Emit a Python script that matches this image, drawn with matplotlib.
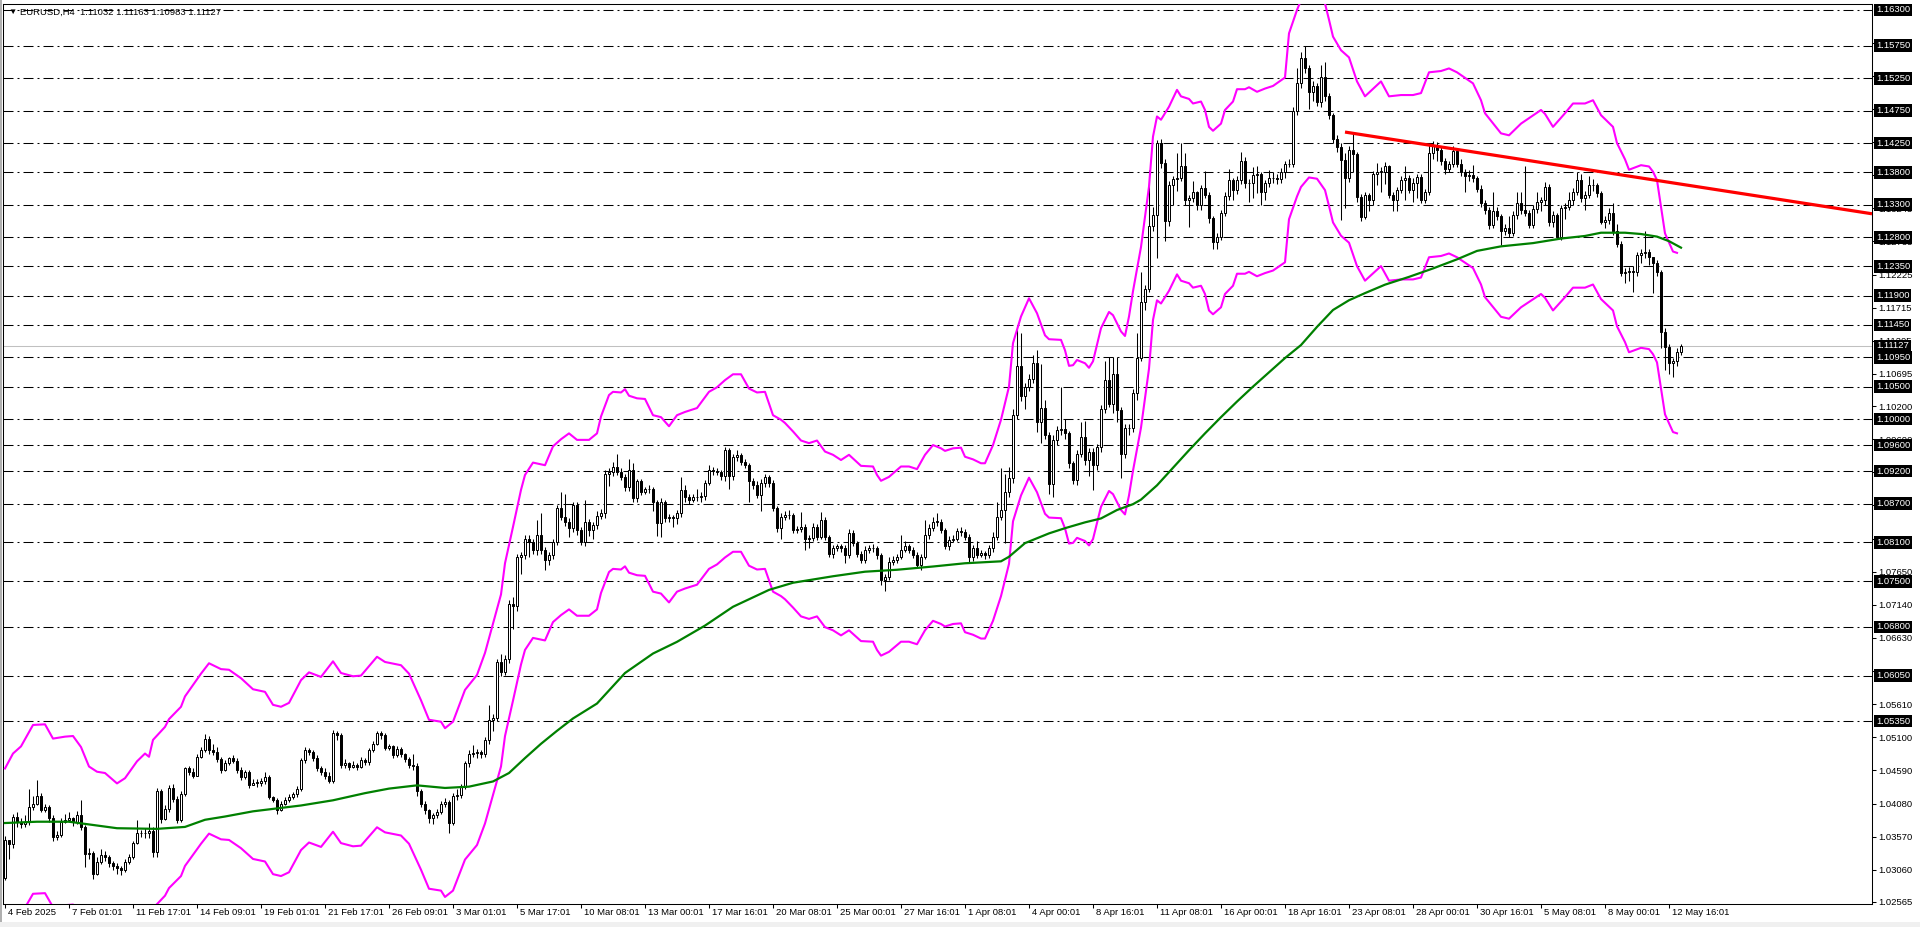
import numpy as np
import matplotlib
matplotlib.use("Agg")
import matplotlib.pyplot as plt
from matplotlib.patches import Rectangle
from matplotlib.transforms import offset_copy

plt.rcParams['font.family'] = ['Liberation Sans', 'DejaVu Sans']
plt.rcParams['lines.scale_dashes'] = False

# ---- values ----
symbol = "EURUSD,H4"
last_bar = ["1.11032", "1.11163", "1.10983", "1.11127"]

first_open = 1.0293

# H4 closes, 16 bars per row (one row per time label)
closes = [
    1.0352, 1.0345, 1.0388, 1.0380, 1.0376, 1.0380, 1.0403, 1.0408, 1.0420, 1.0398, 1.0403, 1.0386, 1.0357, 1.0360, 1.0380, 1.0383,
    1.0385, 1.0380, 1.0390, 1.0372, 1.0330, 1.0332, 1.0300, 1.0318, 1.0328, 1.0325, 1.0316, 1.0312, 1.0308, 1.0305, 1.0318, 1.0325,
    1.0347, 1.0362, 1.0362, 1.0362, 1.0365, 1.0334, 1.0428, 1.0384, 1.0400, 1.0432, 1.0415, 1.0383, 1.0423, 1.0462, 1.0457, 1.0451,
    1.0480, 1.0490, 1.0508, 1.0490, 1.0488, 1.0476, 1.0460, 1.0470, 1.0478, 1.0473, 1.0460, 1.0449, 1.0456, 1.0437, 1.0440, 1.0440,
    1.0442, 1.0449, 1.0418, 1.0413, 1.0398, 1.0408, 1.0413, 1.0418, 1.0422, 1.0431, 1.0475, 1.0490, 1.0488, 1.0478, 1.0463, 1.0457,
    1.0450, 1.0442, 1.0516, 1.0514, 1.0467, 1.0470, 1.0465, 1.0468, 1.0465, 1.0475, 1.0472, 1.0490, 1.0500, 1.0516, 1.0514, 1.0494,
    1.0496, 1.0482, 1.0492, 1.0484, 1.0477, 1.0467, 1.0466, 1.0428, 1.0408, 1.0398, 1.0385, 1.0390, 1.0395, 1.0408, 1.0410, 1.0378,
    1.0419, 1.0421, 1.0434, 1.0470, 1.0485, 1.0486, 1.0487, 1.0484, 1.0506, 1.0537, 1.0540, 1.0626, 1.0611, 1.0631, 1.0716, 1.0712,
    1.0788, 1.0790, 1.0816, 1.0811, 1.0798, 1.0822, 1.0798, 1.0783, 1.0790, 1.0811, 1.0863, 1.0850, 1.0842, 1.0832, 1.0868, 1.0829,
    1.0811, 1.0842, 1.0829, 1.0837, 1.0851, 1.0855, 1.0916, 1.0919, 1.0927, 1.0919, 1.0911, 1.0896, 1.0922, 1.0878, 1.0904, 1.0888,
    1.0892, 1.0893, 1.0873, 1.0840, 1.0873, 1.0847, 1.0850, 1.0847, 1.0855, 1.0891, 1.0880, 1.0875, 1.0880, 1.0880, 1.0882, 1.0902,
    1.0922, 1.0920, 1.0919, 1.0912, 1.0952, 1.0912, 1.0941, 1.0944, 1.0934, 1.0929, 1.0904, 1.0899, 1.0883, 1.0902, 1.0911, 1.0902,
    1.0863, 1.0832, 1.0850, 1.0852, 1.0852, 1.0829, 1.0830, 1.0834, 1.0816, 1.0817, 1.0834, 1.0819, 1.0845, 1.0819, 1.0793, 1.0801,
    1.0804, 1.0801, 1.0791, 1.0824, 1.0809, 1.0793, 1.0783, 1.0799, 1.0801, 1.0801, 1.0790, 1.0752, 1.0757, 1.0780, 1.0783, 1.0788,
    1.0799, 1.0804, 1.0799, 1.0791, 1.0775, 1.0788, 1.0822, 1.0832, 1.0842, 1.0842, 1.0829, 1.0804, 1.0814, 1.0816, 1.0827, 1.0826,
    1.0819, 1.0788, 1.0801, 1.0791, 1.0794, 1.0791, 1.0801, 1.0819, 1.0850, 1.0860, 1.0888, 1.0909, 1.1006, 1.1081, 1.1035, 1.1050,
    1.1062, 1.1086, 1.0996, 1.1017, 1.0976, 1.0900, 1.0968, 1.0983, 1.0984, 1.0978, 1.0932, 1.0906, 1.0947, 1.0973, 1.0937, 1.0950,
    1.0929, 1.0957, 1.1016, 1.1060, 1.1024, 1.1070, 1.1014, 1.0947, 1.0986, 1.0986, 1.1040, 1.1094, 1.1180, 1.1201, 1.1298, 1.1314,
    1.1425, 1.1394, 1.1305, 1.1361, 1.1369, 1.1371, 1.1389, 1.1337, 1.1340, 1.1349, 1.1330, 1.1356, 1.1345, 1.1309, 1.1273, 1.1281,
    1.1317, 1.1343, 1.1368, 1.1353, 1.1368, 1.1397, 1.1363, 1.1364, 1.1376, 1.1377, 1.1350, 1.1363, 1.1371, 1.1372, 1.1370, 1.1380,
    1.1393, 1.1393, 1.1474, 1.1517, 1.1556, 1.1540, 1.1504, 1.1513, 1.1489, 1.1527, 1.1497, 1.1468, 1.1432, 1.1419, 1.1399, 1.1371,
    1.1414, 1.1408, 1.1342, 1.1311, 1.1345, 1.1337, 1.1378, 1.1381, 1.1381, 1.1389, 1.1345, 1.1337, 1.1353, 1.1368, 1.1371, 1.1353,
    1.1363, 1.1373, 1.1337, 1.1350, 1.1409, 1.1420, 1.1415, 1.1397, 1.1385, 1.1393, 1.1413, 1.1393, 1.1381, 1.1374, 1.1376, 1.1371,
    1.1355, 1.1332, 1.1322, 1.1299, 1.1320, 1.1312, 1.1289, 1.1294, 1.1286, 1.1314, 1.1332, 1.1322, 1.1317, 1.1299, 1.1324, 1.1335,
    1.1337, 1.1357, 1.1304, 1.1314, 1.1281, 1.1325, 1.1327, 1.1337, 1.1350, 1.1368, 1.1340, 1.1345, 1.1360, 1.1360, 1.1348, 1.1304,
    1.1307, 1.1317, 1.1289, 1.1270, 1.1225, 1.1227, 1.1228, 1.1227, 1.1253, 1.1255, 1.1258, 1.1250, 1.1240, 1.1226, 1.1134, 1.1111,
    1.1086, 1.1089, 1.1104, 1.1113,
]

highs = [
    1.0358, 1.0352, 1.0392, 1.0395, 1.0386, 1.0390, 1.0430, 1.0420, 1.0444, 1.0424, 1.0408, 1.0405, 1.0390, 1.0365, 1.0385, 1.0392,
    1.0395, 1.0388, 1.0396, 1.0413, 1.0375, 1.0340, 1.0335, 1.0325, 1.0338, 1.0335, 1.0328, 1.0320, 1.0316, 1.0312, 1.0322, 1.0330,
    1.0350, 1.0383, 1.0368, 1.0370, 1.0378, 1.0372, 1.0432, 1.0430, 1.0405, 1.0436, 1.0438, 1.0420, 1.0428, 1.0465, 1.0466, 1.0462,
    1.0485, 1.0495, 1.0515, 1.0512, 1.0500, 1.0495, 1.0480, 1.0475, 1.0480, 1.0482, 1.0478, 1.0465, 1.0460, 1.0460, 1.0446, 1.0446,
    1.0448, 1.0456, 1.0452, 1.0420, 1.0417, 1.0412, 1.0418, 1.0422, 1.0425, 1.0435, 1.0478, 1.0495, 1.0494, 1.0490, 1.0482, 1.0466,
    1.0463, 1.0456, 1.0522, 1.0520, 1.0516, 1.0476, 1.0472, 1.0474, 1.0470, 1.0480, 1.0478, 1.0494, 1.0504, 1.0520, 1.0520, 1.0516,
    1.0500, 1.0498, 1.0496, 1.0495, 1.0486, 1.0480, 1.0484, 1.0470, 1.0430, 1.0412, 1.0400, 1.0394, 1.0400, 1.0412, 1.0416, 1.0414,
    1.0424, 1.0430, 1.0438, 1.0474, 1.0490, 1.0498, 1.0492, 1.0490, 1.0510, 1.0560, 1.0546, 1.0630, 1.0638, 1.0636, 1.0722, 1.0726,
    1.0792, 1.0796, 1.0822, 1.0822, 1.0815, 1.0845, 1.0855, 1.0803, 1.0796, 1.0816, 1.0868, 1.0888, 1.0884, 1.0848, 1.0872, 1.0872,
    1.0834, 1.0875, 1.0846, 1.0842, 1.0858, 1.0862, 1.0922, 1.0924, 1.0934, 1.0947, 1.0924, 1.0915, 1.0938, 1.0932, 1.0908, 1.0908,
    1.0896, 1.0898, 1.0896, 1.0876, 1.0878, 1.0876, 1.0854, 1.0853, 1.0860, 1.0911, 1.0898, 1.0884, 1.0884, 1.0893, 1.0887, 1.0906,
    1.0930, 1.0926, 1.0924, 1.0922, 1.0957, 1.0956, 1.0946, 1.0952, 1.0948, 1.0938, 1.0932, 1.0910, 1.0904, 1.0908, 1.0916, 1.0914,
    1.0906, 1.0866, 1.0855, 1.0858, 1.0860, 1.0856, 1.0836, 1.0857, 1.0838, 1.0822, 1.0840, 1.0838, 1.0857, 1.0850, 1.0822, 1.0806,
    1.0808, 1.0808, 1.0806, 1.0830, 1.0829, 1.0813, 1.0797, 1.0804, 1.0806, 1.0808, 1.0804, 1.0794, 1.0762, 1.0787, 1.0789, 1.0793,
    1.0822, 1.0812, 1.0808, 1.0803, 1.0796, 1.0792, 1.0845, 1.0838, 1.0850, 1.0855, 1.0846, 1.0832, 1.0820, 1.0822, 1.0832, 1.0834,
    1.0831, 1.0823, 1.0806, 1.0812, 1.0799, 1.0797, 1.0806, 1.0826, 1.0873, 1.0924, 1.0916, 1.0927, 1.1015, 1.1145, 1.1132, 1.1056,
    1.1070, 1.1098, 1.1107, 1.1085, 1.1030, 1.0980, 1.0975, 1.0990, 1.1050, 1.1000, 1.0982, 1.0936, 1.0952, 1.0995, 1.0997, 1.0955,
    1.0955, 1.0962, 1.1022, 1.1090, 1.1096, 1.1096, 1.1096, 1.1018, 1.0992, 1.0992, 1.1046, 1.1132, 1.1226, 1.1206, 1.1383, 1.1326,
    1.1430, 1.1432, 1.1400, 1.1366, 1.1374, 1.1410, 1.1425, 1.1410, 1.1345, 1.1367, 1.1352, 1.1361, 1.1382, 1.1350, 1.1312, 1.1287,
    1.1322, 1.1349, 1.1385, 1.1372, 1.1375, 1.1412, 1.1404, 1.1370, 1.1388, 1.1389, 1.1381, 1.1368, 1.1384, 1.1381, 1.1377, 1.1386,
    1.1398, 1.1400, 1.1480, 1.1540, 1.1566, 1.1574, 1.1546, 1.1520, 1.1518, 1.1545, 1.1550, 1.1502, 1.1472, 1.1438, 1.1425, 1.1410,
    1.1420, 1.1440, 1.1412, 1.1346, 1.1350, 1.1348, 1.1382, 1.1394, 1.1388, 1.1396, 1.1392, 1.1350, 1.1358, 1.1374, 1.1390, 1.1376,
    1.1372, 1.1378, 1.1377, 1.1355, 1.1422, 1.1428, 1.1427, 1.1420, 1.1402, 1.1398, 1.1420, 1.1418, 1.1400, 1.1385, 1.1383, 1.1392,
    1.1375, 1.1360, 1.1338, 1.1326, 1.1350, 1.1326, 1.1316, 1.1300, 1.1312, 1.1320, 1.1350, 1.1350, 1.1389, 1.1322, 1.1330, 1.1350,
    1.1342, 1.1365, 1.1362, 1.1320, 1.1318, 1.1330, 1.1332, 1.1350, 1.1356, 1.1381, 1.1378, 1.1351, 1.1374, 1.1370, 1.1364, 1.1352,
    1.1312, 1.1325, 1.1332, 1.1300, 1.1275, 1.1232, 1.1234, 1.1235, 1.1258, 1.1262, 1.1290, 1.1262, 1.1250, 1.1245, 1.1230, 1.1140,
    1.1115, 1.1094, 1.1110, 1.1116,
]

lows = [
    1.0290, 1.0322, 1.0340, 1.0372, 1.0370, 1.0372, 1.0375, 1.0398, 1.0405, 1.0395, 1.0395, 1.0380, 1.0350, 1.0352, 1.0357, 1.0378,
    1.0380, 1.0374, 1.0376, 1.0368, 1.0310, 1.0322, 1.0292, 1.0298, 1.0315, 1.0320, 1.0310, 1.0305, 1.0300, 1.0298, 1.0302, 1.0315,
    1.0322, 1.0345, 1.0356, 1.0355, 1.0355, 1.0325, 1.0326, 1.0378, 1.0382, 1.0395, 1.0410, 1.0378, 1.0380, 1.0420, 1.0452, 1.0447,
    1.0450, 1.0478, 1.0488, 1.0485, 1.0482, 1.0472, 1.0455, 1.0458, 1.0468, 1.0470, 1.0455, 1.0445, 1.0446, 1.0432, 1.0437, 1.0434,
    1.0435, 1.0438, 1.0415, 1.0410, 1.0392, 1.0396, 1.0405, 1.0410, 1.0415, 1.0418, 1.0428, 1.0470, 1.0482, 1.0474, 1.0458, 1.0452,
    1.0446, 1.0440, 1.0440, 1.0506, 1.0462, 1.0462, 1.0460, 1.0462, 1.0460, 1.0462, 1.0468, 1.0468, 1.0488, 1.0498, 1.0508, 1.0490,
    1.0490, 1.0478, 1.0480, 1.0480, 1.0472, 1.0462, 1.0460, 1.0420, 1.0402, 1.0392, 1.0378, 1.0376, 1.0386, 1.0392, 1.0402, 1.0362,
    1.0375, 1.0414, 1.0416, 1.0430, 1.0465, 1.0480, 1.0478, 1.0478, 1.0480, 1.0500, 1.0520, 1.0535, 1.0605, 1.0606, 1.0625, 1.0676,
    1.0705, 1.0762, 1.0784, 1.0788, 1.0792, 1.0790, 1.0792, 1.0767, 1.0776, 1.0785, 1.0806, 1.0845, 1.0836, 1.0818, 1.0826, 1.0822,
    1.0806, 1.0805, 1.0820, 1.0815, 1.0830, 1.0846, 1.0848, 1.0897, 1.0912, 1.0914, 1.0906, 1.0890, 1.0890, 1.0872, 1.0872, 1.0883,
    1.0884, 1.0886, 1.0858, 1.0820, 1.0818, 1.0842, 1.0842, 1.0834, 1.0838, 1.0850, 1.0873, 1.0870, 1.0872, 1.0874, 1.0873, 1.0876,
    1.0898, 1.0914, 1.0914, 1.0906, 1.0904, 1.0892, 1.0906, 1.0936, 1.0930, 1.0924, 1.0873, 1.0893, 1.0878, 1.0859, 1.0896, 1.0896,
    1.0858, 1.0826, 1.0815, 1.0845, 1.0846, 1.0824, 1.0824, 1.0826, 1.0798, 1.0801, 1.0812, 1.0814, 1.0815, 1.0814, 1.0788, 1.0786,
    1.0797, 1.0796, 1.0778, 1.0786, 1.0804, 1.0788, 1.0778, 1.0778, 1.0794, 1.0795, 1.0785, 1.0745, 1.0735, 1.0752, 1.0776, 1.0778,
    1.0784, 1.0795, 1.0794, 1.0786, 1.0770, 1.0768, 1.0784, 1.0816, 1.0828, 1.0836, 1.0824, 1.0800, 1.0798, 1.0810, 1.0812, 1.0820,
    1.0814, 1.0780, 1.0782, 1.0786, 1.0788, 1.0785, 1.0786, 1.0796, 1.0814, 1.0845, 1.0809, 1.0880, 1.0902, 1.1000, 1.1028, 1.1015,
    1.1044, 1.1055, 1.0980, 1.0963, 1.0970, 1.0885, 1.0880, 1.0960, 1.0976, 1.0970, 1.0925, 1.0900, 1.0898, 1.0942, 1.0930, 1.0913,
    1.0891, 1.0922, 1.0950, 1.1010, 1.1018, 1.1010, 1.0995, 1.0910, 1.0940, 1.0975, 1.0980, 1.1030, 1.1090, 1.1168, 1.1195, 1.1290,
    1.1248, 1.1386, 1.1275, 1.1298, 1.1330, 1.1352, 1.1366, 1.1330, 1.1296, 1.1334, 1.1322, 1.1322, 1.1340, 1.1302, 1.1262, 1.1262,
    1.1276, 1.1312, 1.1338, 1.1338, 1.1346, 1.1362, 1.1356, 1.1334, 1.1340, 1.1348, 1.1330, 1.1338, 1.1358, 1.1364, 1.1362, 1.1364,
    1.1372, 1.1388, 1.1388, 1.1468, 1.1510, 1.1533, 1.1478, 1.1490, 1.1482, 1.1480, 1.1490, 1.1462, 1.1425, 1.1412, 1.1307, 1.1325,
    1.1365, 1.1380, 1.1335, 1.1305, 1.1308, 1.1320, 1.1330, 1.1360, 1.1350, 1.1362, 1.1340, 1.1320, 1.1320, 1.1348, 1.1338, 1.1348,
    1.1334, 1.1340, 1.1332, 1.1332, 1.1345, 1.1400, 1.1398, 1.1392, 1.1378, 1.1380, 1.1388, 1.1388, 1.1375, 1.1350, 1.1366, 1.1365,
    1.1350, 1.1326, 1.1316, 1.1292, 1.1295, 1.1306, 1.1268, 1.1284, 1.1280, 1.1282, 1.1308, 1.1316, 1.1312, 1.1294, 1.1294, 1.1318,
    1.1320, 1.1330, 1.1298, 1.1296, 1.1278, 1.1276, 1.1308, 1.1322, 1.1330, 1.1345, 1.1335, 1.1322, 1.1340, 1.1352, 1.1342, 1.1300,
    1.1295, 1.1300, 1.1284, 1.1265, 1.1220, 1.1210, 1.1212, 1.1195, 1.1220, 1.1240, 1.1248, 1.1238, 1.1194, 1.1220, 1.1110, 1.1076,
    1.1070, 1.1065, 1.1082, 1.1098,
]

# envelopes: upper line read at these bars, lower line is the same band mirrored
env_pct = 0.0125
env_bars = [
    0, 2, 4, 7, 10, 12, 15, 17, 19, 21, 23, 25, 28, 30, 33, 35, 36, 37, 40, 41,
    44, 45, 49, 51, 54, 56, 59, 62, 65, 67, 69, 71, 74, 76, 79, 82, 84, 87, 89, 93,
    95, 99, 101, 104, 106, 109, 110, 112, 115, 118, 120, 122, 124, 125, 127, 129, 130, 132, 135, 137,
    139, 141, 143, 146, 148, 149, 151, 152, 154, 155, 156, 158, 160, 162, 164, 166, 168, 170, 173, 176,
    178, 180, 182, 184, 186, 188, 190, 192, 194, 195, 197, 199, 201, 203, 205, 207, 209, 211, 214, 217,
    218, 219, 221, 224, 226, 228, 230, 232, 234, 235, 237, 239, 240, 242, 244, 245, 247, 249, 251, 252,
    254, 256, 258, 260, 261, 264, 265, 266, 267, 268, 270, 271, 272, 274, 276, 277, 279, 280, 281, 282,
    284, 286, 287, 288, 289, 291, 293, 294, 296, 297, 299, 300, 301, 302, 304, 305, 307, 308, 310, 311,
    313, 315, 317, 320, 321, 323, 324, 326, 328, 330, 331, 332, 334, 336, 338, 340, 344, 346, 349, 352,
    354, 356, 359, 361, 363, 367, 369, 370, 374, 376, 379, 384, 385, 387, 390, 392, 395, 397, 399, 402,
    403, 405, 406, 409, 411, 412, 413, 414, 415, 417, 418,
]
env_upper = [
    1.0462, 1.0485, 1.0496, 1.0529, 1.0530, 1.0508, 1.0511, 1.0512, 1.0495, 1.0465, 1.0457, 1.0455, 1.0439, 1.0447, 1.0473, 1.0485, 1.0480, 1.0506, 1.0526, 1.0538,
    1.0557, 1.0573, 1.0608, 1.0624, 1.0615, 1.0614, 1.0601, 1.0584, 1.0580, 1.0560, 1.0557, 1.0563, 1.0598, 1.0610, 1.0603, 1.0627, 1.0609, 1.0604, 1.0605, 1.0634,
    1.0626, 1.0621, 1.0608, 1.0567, 1.0537, 1.0534, 1.0524, 1.0534, 1.0583, 1.0606, 1.0640, 1.0685, 1.0730, 1.0778, 1.0834, 1.0891, 1.0914, 1.0933, 1.0929, 1.0958,
    1.0969, 1.0978, 1.0968, 1.0968, 1.0978, 1.1004, 1.1037, 1.1042, 1.1041, 1.1046, 1.1036, 1.1032, 1.1031, 1.1006, 1.1003, 1.0989, 1.1006, 1.1011, 1.1017, 1.1042,
    1.1049, 1.1060, 1.1069, 1.1069, 1.1047, 1.1041, 1.1042, 1.1006, 1.0999, 1.0994, 1.0981, 1.0967, 1.0963, 1.0967, 1.0950, 1.0945, 1.0937, 1.0945, 1.0928, 1.0927,
    1.0914, 1.0905, 1.0911, 1.0927, 1.0927, 1.0923, 1.0945, 1.0960, 1.0955, 1.0951, 1.0955, 1.0956, 1.0942, 1.0938, 1.0932, 1.0932, 1.0960, 1.0999, 1.1050, 1.1117,
    1.1158, 1.1186, 1.1163, 1.1129, 1.1123, 1.1122, 1.1106, 1.1082, 1.1083, 1.1091, 1.1086, 1.1079, 1.1089, 1.1140, 1.1165, 1.1160, 1.1135, 1.1128, 1.1158, 1.1197,
    1.1265, 1.1358, 1.1435, 1.1466, 1.1461, 1.1481, 1.1507, 1.1497, 1.1493, 1.1486, 1.1489, 1.1476, 1.1450, 1.1444, 1.1455, 1.1476, 1.1489, 1.1508, 1.1508, 1.1511,
    1.1504, 1.1509, 1.1513, 1.1526, 1.1594, 1.1630, 1.1645, 1.1660, 1.1658, 1.1640, 1.1615, 1.1589, 1.1568, 1.1557, 1.1520, 1.1497, 1.1520, 1.1497, 1.1499, 1.1499,
    1.1502, 1.1534, 1.1536, 1.1540, 1.1534, 1.1517, 1.1491, 1.1471, 1.1440, 1.1437, 1.1455, 1.1476, 1.1470, 1.1450, 1.1471, 1.1486, 1.1486, 1.1491, 1.1468, 1.1450,
    1.1425, 1.1400, 1.1384, 1.1391, 1.1389, 1.1381, 1.1368, 1.1327, 1.1286, 1.1258, 1.1256,
]

# long moving average (green)
ma_bars = [
    0, 8, 16, 22, 28, 38, 45, 50, 55, 62, 74, 82, 90, 96, 103, 110, 116, 122, 126, 130,
    134, 138, 142, 148, 155, 162, 168, 175, 182, 191, 197, 204, 207, 215, 223, 232, 240, 249, 251, 255,
    261, 265, 270, 274, 278, 282, 284, 288, 292, 296, 300, 304, 308, 312, 316, 320, 324, 328, 332, 336,
    340, 345, 351, 357, 363, 368, 374, 382, 389, 395, 399, 405, 409, 413, 416, 419,
]
ma_values = [
    1.0378, 1.0380, 1.0380, 1.0375, 1.0370, 1.0369, 1.0372, 1.0383, 1.0388, 1.0396, 1.0405, 1.0413, 1.0424, 1.0431, 1.0436, 1.0432, 1.0434, 1.0442, 1.0455, 1.0478,
    1.0500, 1.0520, 1.0539, 1.0562, 1.0609, 1.0639, 1.0657, 1.0682, 1.0711, 1.0737, 1.0748, 1.0755, 1.0758, 1.0765, 1.0768, 1.0773, 1.0778, 1.0781, 1.0788, 1.0809,
    1.0824, 1.0832, 1.0841, 1.0847, 1.0860, 1.0869, 1.0876, 1.0898, 1.0925, 1.0952, 1.0978, 1.1003, 1.1027, 1.1050, 1.1072, 1.1094, 1.1114, 1.1142, 1.1168, 1.1183,
    1.1194, 1.1207, 1.1219, 1.1232, 1.1246, 1.1259, 1.1266, 1.1271, 1.1278, 1.1282, 1.1287, 1.1287, 1.1285, 1.1281, 1.1274, 1.1264,
]

# red trend line (two anchors, drawn as a ray)
trend_bars = [335, 424]
trend_prices = [1.1442, 1.1357]

# horizontal levels with their price boxes
levels = [1.16300, 1.15750, 1.15250, 1.14750, 1.14250, 1.13800, 1.13300, 1.12800, 1.12350, 1.11900, 1.11450,
          1.10950, 1.10500, 1.10000, 1.09600, 1.09200, 1.08700, 1.08100, 1.07500, 1.06800, 1.06050, 1.05350]
bid = 1.11127

price_ticks = [1.02565, 1.03060, 1.03570, 1.04080, 1.04590, 1.05100, 1.05610, 1.06120, 1.06630, 1.07140,
               1.07650, 1.08160, 1.08670, 1.09180, 1.09690, 1.10200, 1.10695, 1.11205, 1.11715, 1.12225,
               1.12735, 1.13245, 1.13755, 1.14265, 1.14775, 1.15285, 1.15795]

time_labels = ["4 Feb 2025", "7 Feb 01:01", "11 Feb 17:01", "14 Feb 09:01", "19 Feb 01:01", "21 Feb 17:01",
               "26 Feb 09:01", "3 Mar 01:01", "5 Mar 17:01", "10 Mar 08:01", "13 Mar 00:01", "17 Mar 16:01",
               "20 Mar 08:01", "25 Mar 00:01", "27 Mar 16:01", "1 Apr 08:01", "4 Apr 00:01", "8 Apr 16:01",
               "11 Apr 08:01", "16 Apr 00:01", "18 Apr 16:01", "23 Apr 08:01", "28 Apr 00:01", "30 Apr 16:01",
               "5 May 08:01", "8 May 00:01", "12 May 16:01"]
label_step = 16  # bars between two time labels

# ---- figure ----
W, H = 1920, 927
fig = plt.figure(figsize=(W / 100, H / 100), dpi=100, facecolor='white')
ax = fig.add_axes([3 / W, 23 / H, 1869 / W, 900 / H])
ax.set_facecolor('white')
ax.set_xlim(-0.5, 466.75)
ax.set_ylim(1.02533, 1.16392)

# window frame bits
fig.add_artist(Rectangle((0, 0), 2 / W, 1, transform=fig.transFigure, color='#b0b0b0', lw=0))
fig.add_artist(Rectangle((0, 0), 1, 5 / H, transform=fig.transFigure, color='#f0f0f0', lw=0))

# levels and bid line
for lv in levels:
    ax.axhline(lv, color='black', lw=0.75, ls=(0, (7.2, 2.9, 1.4, 2.9)), zorder=1)
ax.axhline(bid, color='#c0c0c0', lw=0.75, zorder=1)

# candles
n = min(len(closes), len(highs), len(lows))
c = np.array(closes[:n])
o = np.r_[first_open, c[:-1]]
h = np.maximum(np.array(highs[:n]), np.maximum(o, c))
l = np.minimum(np.array(lows[:n]), np.minimum(o, c))
idx = np.arange(n)
up = c >= o
ax.vlines(idx, l, h, color='black', lw=0.75, zorder=3)
body_bot = np.minimum(o, c)
body_h = np.maximum(np.abs(c - o), 0.00004)
ax.bar(idx[up], body_h[up], bottom=body_bot[up], width=0.5, color='white',
       edgecolor='black', linewidth=0.72, zorder=4)
ax.bar(idx[~up], body_h[~up], bottom=body_bot[~up], width=0.5, color='black',
       edgecolor='black', linewidth=0.72, zorder=4)

# envelopes
env_up = np.array(env_upper)
env_mid = env_up / (1 + env_pct)
env_low = env_mid * (1 - env_pct)
ax.plot(env_bars, env_up, color='#ff00ff', lw=1.5, zorder=5)
ax.plot(env_bars, env_low, color='#ff00ff', lw=1.5, zorder=5)

# moving average
ax.plot(ma_bars, ma_values, color='#008000', lw=1.6, zorder=5)

# trend line, extended to the right edge
slope = (trend_prices[1] - trend_prices[0]) / (trend_bars[1] - trend_bars[0])
x_end = ax.get_xlim()[1]
ax.plot([trend_bars[0], x_end], [trend_prices[0], trend_prices[0] + slope * (x_end - trend_bars[0])],
        color='#ff0000', lw=2.3, solid_capstyle='butt', zorder=6)

# axes look
for s in ax.spines.values():
    s.set_color('black')
    s.set_linewidth(0.75)

ax.yaxis.tick_right()
ax.set_yticks(price_ticks)
ax.set_yticklabels(["{:.5f}".format(v) for v in price_ticks])
ax.tick_params(axis='y', direction='out', length=3, width=0.75, pad=1.5, labelsize=6.8, colors='black')
ax.set_ylim(1.02533, 1.16392)

tick_pos = np.arange(len(time_labels)) * label_step
ax.set_xticks(tick_pos)
ax.set_xticklabels([])
ax.tick_params(axis='x', direction='out', length=3, width=0.75)
for pos, txt in zip(tick_pos, time_labels):
    ax.annotate(txt, xy=(pos, 0), xycoords=('data', 'axes fraction'), xytext=(3, -4),
                textcoords='offset pixels', ha='left', va='top', fontsize=6.8, color='black',
                annotation_clip=False)

# black price boxes on the right
box_tr = offset_copy(ax.get_yaxis_transform(), fig=fig, x=4, y=0, units='dots')
for lv in levels + [bid]:
    ax.text(1.0, lv, "{:.5f}".format(lv), transform=box_tr, ha='left', va='center',
            fontsize=6.8, color='white', clip_on=False, zorder=10,
            bbox=dict(boxstyle='square,pad=0.2', fc='black', ec='none'))

# chart title
fig.text(8 / W, 1 - 12 / H, "\u25bc", fontsize=6, ha='left', va='center', color='black')
fig.text(20 / W, 1 - 12 / H, symbol + "  " + " ".join(last_bar), fontsize=6.8,
         ha='left', va='center', color='black')

fig.savefig('out.png', dpi=100, facecolor='white')
